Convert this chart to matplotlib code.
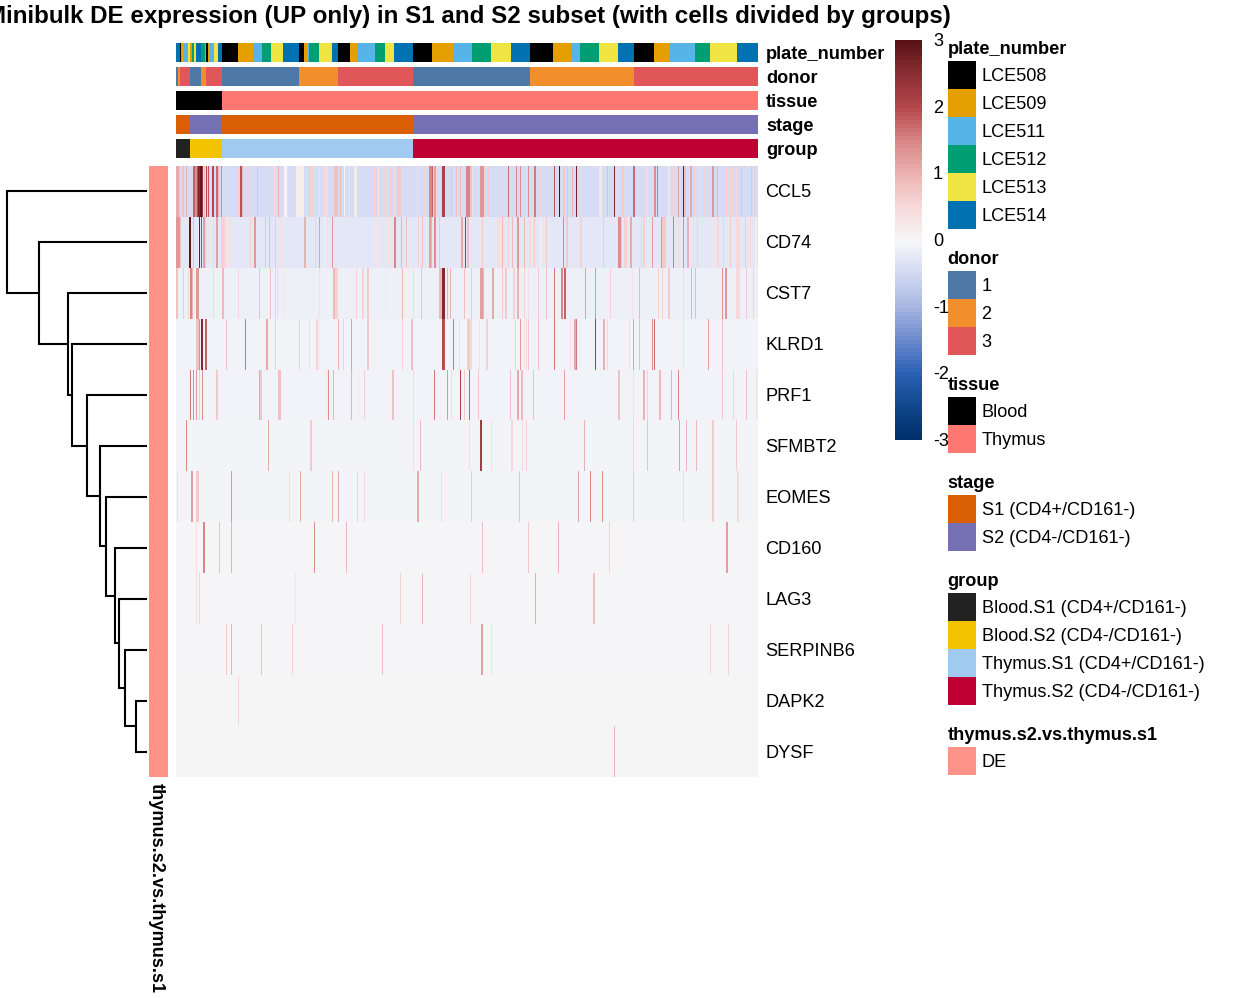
"""Minibulk DE heatmap with annotation strips, dendrogram and legends."""
import numpy as np
import matplotlib
matplotlib.use("Agg")
import matplotlib.pyplot as plt
from matplotlib.colors import LinearSegmentedColormap, ListedColormap
from matplotlib.patches import Rectangle

plt.rcParams['font.family'] = ['Liberation Sans', 'DejaVu Sans']

TITLE = "Minibulk DE expression (UP only) in S1 and S2 subset (with cells divided by groups)"
N_CELLS = 582

genes = ["CCL5", "CD74", "CST7", "KLRD1", "PRF1", "SFMBT2", "EOMES", "CD160",
         "LAG3", "SERPINB6", "DAPK2", "DYSF"]
# background value of each gene, all cells without signal have it
gene_base = [-0.47, -0.28, -0.15, -0.09, -0.09, -0.07, -0.07, -0.01, -0.01, -0.01, 0.0, 0.0]

# cells with signal, one list of cells and one of values per gene
CCL5_cells = [0, 1, 2, 3, 6, 7, 10, 17, 18, 19, 20, 21, 22, 23, 24, 25, 26, 28, 30, 32, 36, 37, 40, 41, 42, 45,
              62, 64, 65, 66, 71, 72, 81, 89, 98, 102, 108, 109, 110, 111, 120, 121, 122, 123, 124, 125, 126, 127,
              133, 134, 135, 136, 137, 143, 145, 148, 149, 150, 151, 158, 159, 160, 161, 164, 168, 173, 175, 178,
              179, 180, 198, 202, 208, 214, 218, 221, 222, 223, 224, 241, 247, 248, 253, 254, 255, 256, 258, 259,
              260, 266, 267, 268, 269, 275, 280, 284, 290, 291, 292, 293, 294, 295, 296, 304, 305, 306, 307, 308,
              312, 332, 335, 340, 344, 352, 358, 359, 364, 378, 383, 387, 388, 391, 396, 400, 405, 413, 423, 424,
              425, 431, 438, 441, 446, 447, 451, 457, 458, 470, 471, 478, 479, 481, 492, 493, 496, 497, 502, 507,
              508, 509, 514, 515, 518, 523, 528, 536, 537, 541, 550, 554, 555, 556, 560, 565, 569, 575, 578, 579]
CCL5_vals = [1.0, 1.2, 1.0, 0.8, 0.8, 0.8, 1.0, 1.8, 1.8, 1.4, 1.4, 2.0, 2.6, 2.6, 2.9, 2.9, 2.4, 0.8, 2.0, 1.9, 2.0, 2.0, 1.7, 1.7, 0.9, 1.5,
             0.7, 1.9, 1.9, 0.9, 0.6, 0.6, 0.8, 0.6, 0.5, 1.0, 0.05, 0.05, 0.05, 0.5, 0.15, 0.15, 0.15, 0.15, 0.15, 0.15, 0.15, 0.15,
             0.7, 0.6, 0.6, 0.6, 0.6, 0.4, 0.6, 0.5, 0.5, 0.5, 0.5, 0.8, 0.8, 0.8, 0.8, 0.9, 0.0, 0.4, 0.6, 0.2,
             0.2, 0.2, 0.6, 0.3, 0.6, 0.7, 0.5, 0.7, 0.7, 0.7, 0.7, 0.5, 0.6, 0.6, 1.5, 1.5, 1.5, 1.8, 1.2, 1.2,
             0.5, 2.1, 2.1, 2.1, 0.5, 0.8, 0.8, 0.9, 1.5, 1.5, 1.5, 1.5, 0.8, 0.8, 0.4, 1.3, 1.3, 1.3, 1.3, 0.6,
             0.7, 1.7, 0.6, 1.5, 1.4, 1.4, 1.6, 1.6, 0.6, 1.9, 3.0, 0.7, 0.7, 0.8, 1.0, 2.7, 0.5, 0.6, 0.3, 0.3,
             0.3, 0.9, 2.6, 0.5, 0.7, 0.7, 0.6, 1.7, 1.7, 0.5, 0.5, 1.4, 1.4, 1.6, 0.3, 0.3, 0.6, 0.6, 1.2, 2.8,
             0.8, 0.8, 1.1, 1.1, 0.6, 0.5, 0.6, 1.3, 1.3, 1.0, 0.6, 0.6, 0.6, 0.6, 0.5, 0.8, 0.6, 0.8, 0.6, 0.6]

CD74_cells = [0, 1, 2, 3, 4, 13, 14, 17, 23, 25, 27, 28, 29, 37, 40, 41, 45, 46, 47, 48, 50, 54, 74, 78, 79, 89, 93,
              99, 103, 104, 105, 128, 129, 139, 143, 148, 156, 199, 202, 205, 212, 218, 219, 225, 230, 242, 246,
              253, 254, 255, 258, 259, 263, 285, 286, 289, 291, 292, 306, 321, 322, 323, 324, 326, 332, 336, 341,
              342, 348, 353, 354, 358, 364, 365, 370, 387, 390, 391, 399, 404, 405, 427, 435, 442, 443, 444, 445,
              448, 449, 450, 454, 455, 465, 467, 468, 476, 485, 486, 487, 488, 489, 497, 502, 507, 511, 512, 517,
              521, 536, 541, 542, 547, 554, 560, 561, 562, 563, 569, 574, 579, 580]
CD74_vals = [1.3, 1.3, 1.3, 1.3, 0.8, 2.9, 2.9, 0.9, 2.8, 2.0, 1.2, 1.2, 0.7, 0.5, 1.2, 1.2, 0.6, 0.6, 0.6, 0.6, 0.4, 0.4, 0.6, 1.3, 1.3, 0.8, 0.9,
             0.7, 0.4, 0.4, 0.4, 1.0, 1.0, 0.6, 1.2, 0.1, 1.3, 0.3, 0.3, 0.4, 0.4, 1.5, 1.5, 1.0, 0.8, 0.6, 0.8,
             1.2, 1.2, 1.0, 1.4, 1.4, 0.7, 1.1, 1.1, 2.2, 0.8, 0.8, 0.7, 0.4, 0.4, 0.4, 0.4, 0.9, 0.6, 0.9, 1.3,
             1.3, 0.9, 0.5, 0.5, 0.7, 0.2, 0.2, 0.7, 1.5, 0.7, 0.7, 0.4, 0.6, 0.6, 0.7, 0.4, 1.4, 1.4, 1.4, 0.7,
             0.6, 0.6, 0.6, 1.1, 1.1, 0.6, 0.6, 0.6, 1.2, 1.3, 0.7, 0.7, 0.7, 0.7, 1.6, 0.5, 1.4, 1.0, 1.0, 0.5,
             0.6, 0.3, 0.5, 0.5, 0.6, 0.7, 0.5, 0.5, 0.5, 0.5, 0.7, 0.5, 0.2, 0.2]

CST7_cells = [0, 1, 7, 12, 14, 15, 16, 20, 21, 22, 37, 46, 47, 62, 83, 94, 99, 101, 108, 143, 157, 158, 159, 160, 161,
              180, 186, 187, 191, 192, 215, 226, 230, 237, 245, 263, 264, 265, 266, 267, 268, 271, 274, 288, 295,
              304, 305, 306, 307, 316, 317, 326, 329, 330, 337, 338, 341, 342, 348, 352, 362, 370, 378, 385, 386,
              388, 389, 409, 419, 434, 456, 463, 482, 486, 492, 493, 507, 515, 519, 546, 549, 550, 560, 561, 562,
              563, 570, 577]
CST7_vals = [0.8, 0.8, 0.7, 0.5, 1.5, 1.5, 1.0, 1.3, 1.3, 1.3, 0.5, 0.9, 0.9, 0.5, 0.8, 0.8, 0.6, 0.5, 0.3, 0.4, 0.9, 0.9, 0.6, 0.6, 0.6,
             0.6, 0.6, 0.6, 0.7, 0.7, 0.1, 0.9, 0.1, 0.5, 0.8, 0.9, 0.9, 0.9, 2.6, 2.6, 2.6, 1.0, 1.0, 0.8, 0.7,
             1.2, 1.2, 1.2, 1.0, 1.1, 1.1, 0.7, 0.7, 0.7, 0.6, 0.6, 1.0, 1.0, 0.6, 0.4, 0.7, 0.8, 1.6, 1.5, 1.5,
             1.8, 1.8, 1.2, 1.3, 0.6, 0.3, 0.9, 0.6, 0.6, 0.7, 0.7, 0.5, 1.0, 0.9, 1.4, 1.3, 1.3, 0.5, 0.5, 0.5,
             0.5, 0.7, 0.6]

KLRD1_cells = [20, 21, 22, 23, 25, 26, 29, 30, 50, 69, 90, 91, 99, 123, 133, 140, 141, 143, 162, 167, 175, 191, 192, 226,
               235, 236, 266, 267, 268, 277, 283, 291, 292, 293, 294, 295, 303, 310, 311, 339, 344, 348, 350, 352,
               362, 378, 394, 398, 399, 400, 419, 427, 428, 431, 453, 457, 463, 476, 478, 507, 532, 546]
KLRD1_vals = [0.8, 0.8, 0.8, 1.4, 2.6, 2.6, 1.8, 1.8, 0.8, 1.6, 1.1, 1.1, 0.6, 0.6, 0.5, 0.6, 0.6, 0.3, 1.0, 0.6, 1.2, 0.7, 0.7, 0.6,
              0.8, 0.8, 2.0, 2.0, 1.9, 1.6, 0.5, 0.7, 0.7, 0.7, 0.5, 0.5, 0.4, 0.6, 0.6, 0.6, 1.3, 0.4, 0.5, 0.7,
              0.8, 1.6, 0.4, 1.1, 1.1, 1.6, 2.2, 1.0, 1.0, 0.5, 0.4, 1.2, 0.8, 1.4, 1.7, 0.4, 1.2, 0.8]

PRF1_cells = [14, 17, 20, 23, 26, 40, 41, 83, 84, 85, 102, 103, 104, 150, 152, 157, 175, 183, 188, 216, 217, 237, 258, 271,
              275, 284, 288, 293, 302, 334, 341, 342, 345, 346, 357, 388, 442, 443, 457, 467, 468, 471, 483, 484, 495,
              502, 546, 557, 570, 580, 581]
PRF1_vals = [1.6, 1.4, 1.3, 0.7, 1.4, 0.7, 0.7, 1.1, 0.7, 0.7, 0.8, 0.8, 0.8, 0.3, 1.4, 1.0, 1.0, 0.2, 0.6, 0.8, 0.8, 0.5, 1.6, 1.3,
             0.5, 2.1, 0.7, 1.8, 0.7, 0.8, 1.1, 1.1, 0.9, 0.9, 0.8, 1.2, 0.8, 0.8, 0.4, 1.0, 1.0, 0.6, 0.9, 0.9, 1.0,
             1.5, 0.7, 0.6, 0.8, 0.3, 0.3]

SFMBT2_cells = [10, 92, 134, 135, 237, 244, 293, 304, 305, 315, 335, 336, 346, 350, 408, 457, 471, 503, 510, 520, 536, 537, 560]
SFMBT2_vals = [1.5, 1.1, 0.7, 0.7, 0.4, 0.9, 0.4, 2.2, 2.2, 0.4, 0.5, 0.5, 0.5, 0.6, 1.0, 0.6, 0.8, 1.2, 0.9, 0.9, 0.7, 0.7, 0.7]

EOMES_cells = [1, 15, 16, 20, 21, 22, 55, 113, 124, 156, 162, 181, 188, 241, 242, 265, 295, 343, 402, 414, 426, 457, 507, 536, 537, 561, 562]
EOMES_vals = [0.5, 1.2, 1.2, 0.7, 0.7, 0.7, 1.3, 0.5, 1.1, 1.0, 1.1, 0.6, 0.5, 1.1, 1.1, 0.5, 0.7, 0.8, 1.2, 1.5, 1.4, 0.7, 0.5, 0.7, 0.7, 0.5, 0.5]

CD160_cells = [20, 27, 28, 43, 55, 138, 143, 170, 306, 352, 382, 433, 550, 551]
CD160_vals = [0.4, 1.5, 1.5, 0.8, 1.0, 1.4, 0.1, 0.9, 0.8, 0.7, 1.0, 0.6, 1.2, 1.2]

LAG3_cells = [20, 23, 119, 224, 246, 294, 359, 417, 418]
LAG3_vals = [0.5, 0.6, 0.3, 0.6, 0.9, 0.5, 1.1, 0.8, 0.8]

SERPINB6_cells = [50, 55, 85, 116, 206, 305, 306, 315, 534, 552]
SERPINB6_vals = [0.7, 1.0, 0.8, 0.6, 0.8, 1.2, 1.2, 0.4, 0.5, 0.6]

DAPK2_cells = [62]
DAPK2_vals = [0.5]

DYSF_cells = [438]
DYSF_vals = [0.9]

gene_cells = [CCL5_cells, CD74_cells, CST7_cells, KLRD1_cells, PRF1_cells, SFMBT2_cells,
              EOMES_cells, CD160_cells, LAG3_cells, SERPINB6_cells, DAPK2_cells, DYSF_cells]
gene_vals = [CCL5_vals, CD74_vals, CST7_vals, KLRD1_vals, PRF1_vals, SFMBT2_vals,
             EOMES_vals, CD160_vals, LAG3_vals, SERPINB6_vals, DAPK2_vals, DYSF_vals]

# column annotations as category + run length, left to right
plate_levels = ["LCE508", "LCE509", "LCE511", "LCE512", "LCE513", "LCE514"]
plate_colors = ["#000000", "#E69F00", "#56B4E9", "#009E73", "#F0E442", "#0072B2"]
plate_codes = [5, 0, 1, 2, 4, 1, 2, 3, 4, 5, 3, 2, 0, 1, 2, 4, 5,
               0, 1, 2, 3, 4, 5, 0, 1, 2, 3, 4, 5, 0, 1, 2, 3, 4, 5,
               0, 1, 2, 3, 4, 5, 0, 1, 2, 3, 4, 5, 0, 1, 2, 3, 4, 5]
plate_runs = [4, 1, 3, 4, 2, 1, 1, 2, 2, 5, 4, 1, 2, 2, 4, 4, 4,
              16, 15, 9, 9, 12, 16, 5, 4, 1, 10, 13, 6, 12, 8, 17, 10, 9, 19,
              19, 22, 18, 19, 20, 19, 23, 18, 9, 19, 19, 16, 20, 16, 25, 15, 27, 21]

donor_levels = ["1", "2", "3"]
donor_colors = ["#4E79A7", "#F28E2B", "#E15759"]
donor_codes = [0, 1, 2, 0, 1, 2, 0, 1, 2, 0, 1, 2]
donor_runs = [2, 2, 10, 11, 5, 16, 77, 39, 75, 117, 104, 124]

tissue_levels = ["Blood", "Thymus"]
tissue_colors = ["#000000", "#FF7770"]
tissue_codes = [0, 1]
tissue_runs = [46, 536]

stage_levels = ["S1 (CD4+/CD161-)", "S2 (CD4-/CD161-)"]
stage_colors = ["#D95F02", "#7570B3"]
stage_codes = [0, 1, 0, 1]
stage_runs = [14, 32, 191, 345]

group_levels = ["Blood.S1 (CD4+/CD161-)", "Blood.S2 (CD4-/CD161-)",
                "Thymus.S1 (CD4+/CD161-)", "Thymus.S2 (CD4-/CD161-)"]
group_colors = ["#222222", "#F3C300", "#A1CAF1", "#BE0032"]
group_codes = [0, 1, 2, 3]
group_runs = [14, 32, 191, 345]

de_levels = ["DE"]
de_colors = ["#FF9289"]

# dendrogram: merge heights from the bottom pair up to the root
merge_heights = [0.76, 1.55, 2.02, 2.31, 2.93, 3.33, 4.31, 5.33, 5.67, 7.67, 10.0]

cbar_ticks = [3, 2, 1, 0, -1, -2, -3]
cmap_values = [-3, -2.5, -2, -1.5, -1, -0.47, -0.28, -0.15, -0.08, 0, 0.5, 1, 1.5, 2, 2.5, 3]
cmap_colors = ["#002F6C", "#11488E", "#2C62B5", "#6F8CCF", "#A9B8E3", "#D5DCF3", "#E3E7F6", "#EEF0F8",
               "#F3F4F9", "#F6F6F7", "#F8DADA", "#EDB2B2", "#D98787", "#B5484D", "#8C3036", "#5A1214"]

W, H = 1248, 998
fig = plt.figure(figsize=(W / 100, H / 100), dpi=100)
FS = 13.05
DY = 1.5


def px_axes(x0, y0, x1, y1):
    ax = fig.add_axes([x0 / W, 1 - y1 / H, (x1 - x0) / W, (y1 - y0) / H])
    ax.set_axis_off()
    return ax


cmap = LinearSegmentedColormap.from_list(
    "exprs", [((v + 3) / 6, c) for v, c in zip(cmap_values, cmap_colors)], N=600)

# overlay for all the text and legend boxes, in figure pixels
top = px_axes(0, 0, W, H)
top.set_xlim(0, W)
top.set_ylim(H, 0)

# annotation strips
ann_runs = [(plate_codes, plate_runs, plate_colors, "plate_number", 43),
            (donor_codes, donor_runs, donor_colors, "donor", 67),
            (tissue_codes, tissue_runs, tissue_colors, "tissue", 91),
            (stage_codes, stage_runs, stage_colors, "stage", 115),
            (group_codes, group_runs, group_colors, "group", 139)]
for codes, runs, colors, name, y0 in ann_runs:
    ax = px_axes(176, y0, 757.5, y0 + 19)
    strip = np.repeat(codes, runs)[:N_CELLS][None, :]
    ax.imshow(strip, aspect="auto", interpolation="nearest", interpolation_stage="rgba",
              cmap=ListedColormap(colors), vmin=0, vmax=len(colors) - 1)
    top.text(766, y0 + 10 + DY - 0.5, name, fontsize=FS, fontweight="bold", va="center", ha="left")

# heatmap
mat = np.zeros((len(genes), N_CELLS))
for i, base in enumerate(gene_base):
    mat[i, :] = base
    mat[i, gene_cells[i]] = gene_vals[i]
hm = px_axes(176, 166, 757.5, 777)
hm.imshow(mat, aspect="auto", interpolation="nearest", interpolation_stage="rgba",
          cmap=cmap, vmin=-3, vmax=3)
row_h = (777 - 166) / len(genes)
for i, g in enumerate(genes):
    top.text(765.5, 166 + (i + 0.5) * row_h + DY, g, fontsize=FS, va="center", ha="left")

# side annotation
side = px_axes(149, 166, 168, 777)
side.imshow([[0]], aspect="auto", cmap=ListedColormap(de_colors))
top.text(156.5, 783, "thymus.s2.vs.thymus.s1", fontsize=FS, fontweight="bold",
         rotation=270, va="top", ha="center")

# dendrogram, built from the bottom pair upward
den = px_axes(6, 166, 147, 777)
den.set_xlim(10.06, 0)
den.set_ylim(len(genes), 0)
n = len(genes)
cur_y = n - 0.5
cur_h = 0.0
for k, h in enumerate(merge_heights):
    leaf_y = n - 2 - k + 0.5
    den.plot([0, h, h, cur_h], [leaf_y, leaf_y, cur_y, cur_y], color="black",
             lw=1.5, solid_joinstyle="miter", solid_capstyle="butt", clip_on=False)
    cur_y = (leaf_y + cur_y) / 2
    cur_h = h

# colour bar
cb = px_axes(895, 40, 922, 440)
cb.imshow(np.linspace(3, -3, 100)[:, None], aspect="auto", interpolation="nearest",
          interpolation_stage="rgba", cmap=cmap, vmin=-3, vmax=3)
for t in cbar_ticks:
    top.text(933, 240 - t * 400 / 6 + DY, str(t), fontsize=FS, va="center", ha="left")

# legends
legends = [("plate_number", plate_levels, plate_colors, 61),
           ("donor", donor_levels, donor_colors, 271),
           ("tissue", tissue_levels, tissue_colors, 397),
           ("stage", stage_levels, stage_colors, 495),
           ("group", group_levels, group_colors, 593),
           ("thymus.s2.vs.thymus.s1", de_levels, de_colors, 747)]
for name, levels, colors, y0 in legends:
    top.text(947.5, y0 - 13 + DY, name, fontsize=FS, fontweight="bold", va="center", ha="left")
    for j, (lab, col) in enumerate(zip(levels, colors)):
        top.add_patch(Rectangle((948, y0 + j * 28), 28, 28, facecolor=col, edgecolor="none"))
        top.text(981.5, y0 + j * 28 + 14 + DY, lab, fontsize=FS, va="center", ha="left")

# the long title runs off the left edge in the reference too
top.text(468.5, 16, TITLE, fontsize=17.37, fontweight="bold", va="center", ha="center")

fig.savefig("out.png", dpi=100, facecolor="white")
